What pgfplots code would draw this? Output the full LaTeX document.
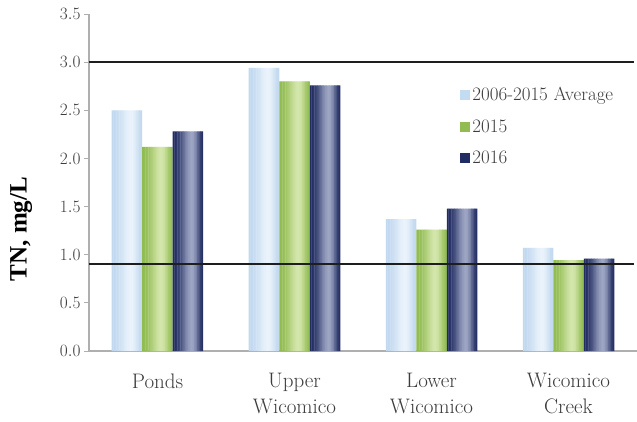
\documentclass[border=0pt]{standalone}
\usepackage{pgfplots}
\usepackage{pgfplotstable}
\pgfplotsset{compat=1.18}
\usepackage{fontspec}
\newfontfamily\labfont{Liberation Serif}
\definecolor{lbE}{RGB}{192,215,239}
\definecolor{lbM}{RGB}{234,243,251}
\definecolor{grE}{RGB}{144,187,80}
\definecolor{grM}{RGB}{212,230,172}
\definecolor{nvE}{RGB}{31,42,95}
\definecolor{nvM}{RGB}{158,166,196}
\definecolor{lbF}{RGB}{196,220,242}
\definecolor{grF}{RGB}{146,188,82}
\definecolor{nvF}{RGB}{33,45,98}
\definecolor{txt}{RGB}{60,60,60}
\definecolor{axg}{RGB}{175,175,175}
\pgfplotstableread{
x avg y2015 y2016
0 2.50 2.12 2.28
1 2.94 2.80 2.76
2 1.37 1.26 1.48
3 1.07 0.945 0.96
}\data
\begin{document}
\begin{tikzpicture}
\useasboundingbox (-89pt,-70pt) rectangle (548pt,351pt);
\begin{axis}[
  at={(0,0)}, anchor=south west,
  scale only axis, width=548pt, height=337pt,
  xmin=-0.5, xmax=3.5, ymin=0, ymax=3.5,
  axis x line*=bottom, axis y line*=left,
  axis line style={draw=axg, line width=1.2pt, -},
  tick align=outside,
  xtick={0,1,2,3},
  xticklabels={Ponds,{Upper\\Wicomico},{Lower\\Wicomico},{Wicomico\\Creek}},
  x tick style={draw=none},
  extra x ticks={-0.5,0.5,1.5,2.5},
  extra x tick labels={},
  extra x tick style={tick style={draw=axg, line width=1pt}, major tick length=6pt},
  xticklabel style={align=center, font=\fontsize{21}{26}\selectfont, text=txt, yshift=-14pt},
  ytick={0,0.5,...,3.5},
  y tick style={draw=axg, line width=1pt},
  major tick length=5pt,
  yticklabel style={font=\fontsize{16}{16}\selectfont, text=txt},
  yticklabel={\pgfmathprintnumber[fixed,fixed zerofill,precision=1]{\tick}},
  ylabel={\labfont\bfseries TN, mg/L},
  every axis y label/.style={at={(axis description cs:-0.124,0.362)}, rotate=90, anchor=center, font=\fontsize{25}{25}\selectfont, text=black},
  legend style={draw=none, fill=none, at={(rel axis cs:0.672,0.795)}, anchor=north west,
    font=\fontsize{19}{19}\selectfont, text=txt, row sep=13.5pt,
    /tikz/every even column/.append style={column sep=3pt}},
  legend cell align=left,
  legend image code/.code={\fill[#1] (0pt,-5pt) rectangle (10pt,5pt);},
  clip=false,
]
\foreach \col/\off/\E/\M in {avg/-45.75/lbE/lbM, y2015/-15.25/grE/grM, y2016/15.25/nvE/nvM}{
  \foreach \k/\p in {0/2,1/5,2/10,3/17,4/25,5/35,6/46,7/58,8/70,9/81,10/90,11/97,12/100,13/95,14/85,15/70,16/52,17/34,18/18,19/6}{
    \pgfmathsetmacro\bw{(\k<19 ? 1.9 : 1.525)}
    \pgfmathsetmacro\sh{\off+1.525*\k+\bw/2}
    \edef\tmp{\noexpand\addplot[ybar, draw=none, forget plot, fill=\M!\p!\E,
      bar width=\bw pt, bar shift=\sh pt] table[x=x,y=\col]{\noexpand\data};}
    \tmp
  }
}
\addlegendimage{fill=lbF, draw=none}
\addlegendentry{2006-2015 Average}
\addlegendimage{fill=grF, draw=none}
\addlegendentry{2015}
\addlegendimage{fill=nvF, draw=none}
\addlegendentry{2016}
\addplot[sharp plot, draw={rgb,255:red,30;green,30;blue,30}, line width=2pt, forget plot]
  coordinates {(-0.5,3.0) (3.48,3.0)};
\addplot[sharp plot, draw={rgb,255:red,30;green,30;blue,30}, line width=2pt, forget plot]
  coordinates {(-0.5,0.9) (3.48,0.9)};
\end{axis}
\end{tikzpicture}
\end{document}
